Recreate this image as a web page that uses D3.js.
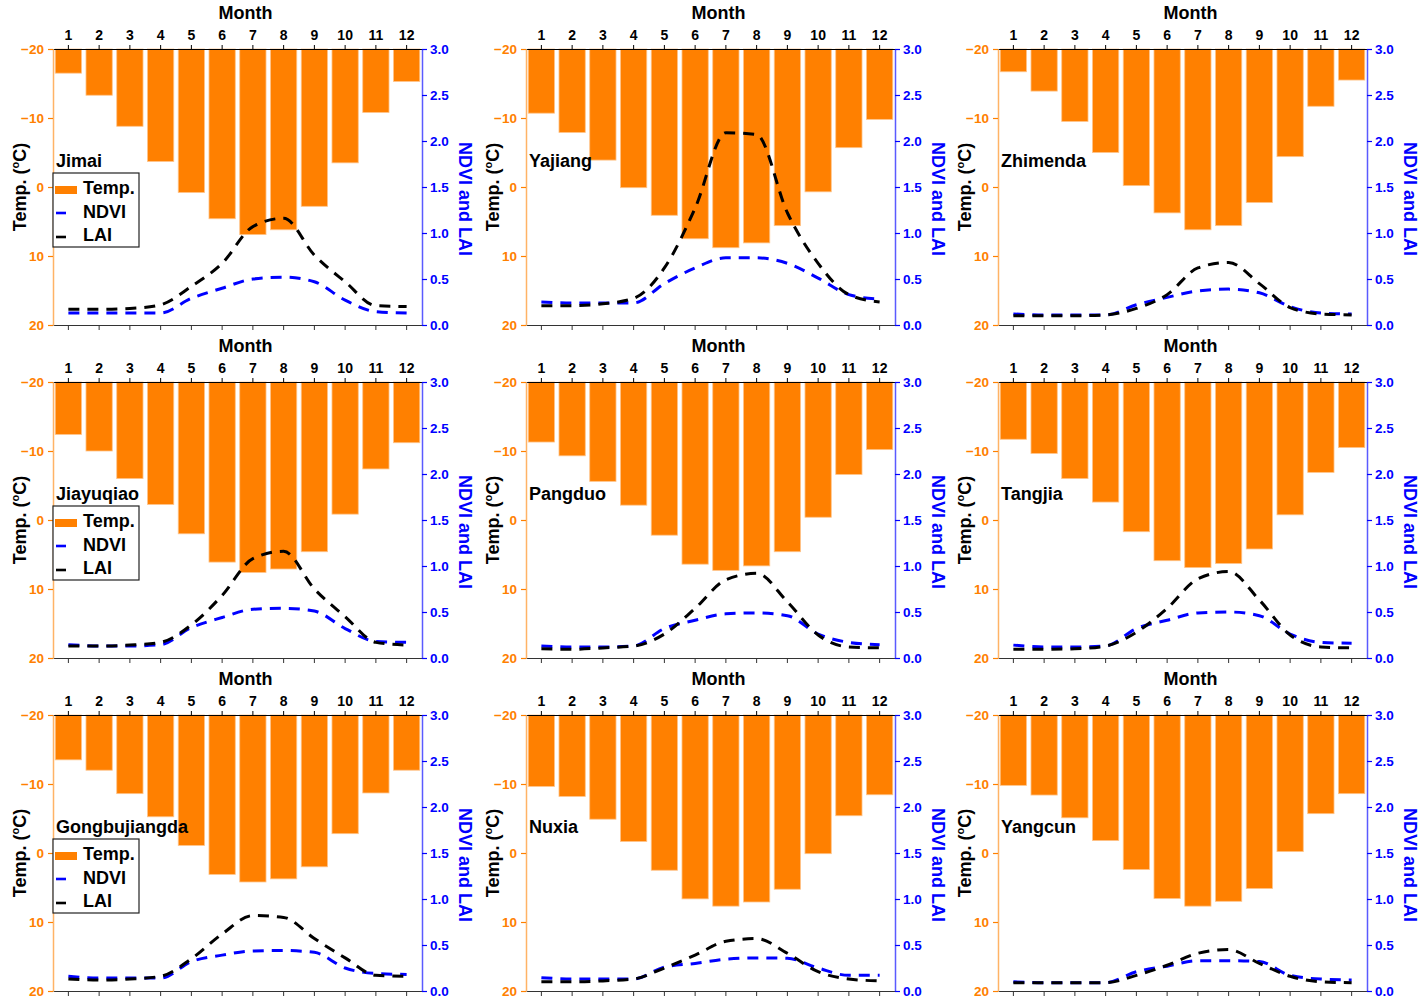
<!DOCTYPE html>
<html>
<head>
<meta charset="utf-8">
<script src="https://cdn.jsdelivr.net/npm/d3@7/dist/d3.min.js"></script>
<style>
  html, body { margin: 0; padding: 0; background: #fff; }
  svg { display: block; font-family: "Liberation Sans", Arial, sans-serif; }
</style>
</head>
<body>
<svg id="chart" width="1422" height="1000"></svg>
<script>
// ---------------- DATA ----------------
const months = [1, 2, 3, 4, 5, 6, 7, 8, 9, 10, 11, 12];
const stations = ["Jimai", "Yajiang", "Zhimenda", "Jiayuqiao", "Pangduo", "Tangjia", "Gongbujiangda", "Nuxia", "Yangcun"];
const tempTicks = [-20, -10, 0, 10, 20];
const vegTicks = [0, 0.5, 1.0, 1.5, 2.0, 2.5, 3.0];
const legendLabels = ["Temp.", "NDVI", "LAI"];

const jimaiTemp = [-16.5, -13.3, -8.8, -3.7, 0.8, 4.6, 6.9, 6.2, 2.8, -3.5, -10.8, -15.3];
const jimaiNDVI = [0.13, 0.13, 0.13, 0.13, 0.29, 0.40, 0.50, 0.52, 0.47, 0.27, 0.145, 0.13];
const jimaiLAI = [0.17, 0.17, 0.18, 0.22, 0.42, 0.67, 1.07, 1.16, 0.76, 0.47, 0.21, 0.20];

const yajiangTemp = [-10.7, -7.9, -3.9, 0.1, 4.1, 7.5, 8.8, 8.1, 5.6, 0.7, -5.7, -9.8];
const yajiangNDVI = [0.25, 0.24, 0.24, 0.24, 0.45, 0.62, 0.73, 0.73, 0.67, 0.51, 0.33, 0.28];
const yajiangLAI = [0.21, 0.21, 0.23, 0.29, 0.62, 1.27, 2.09, 2.07, 1.22, 0.67, 0.33, 0.25];

const zhimendaTemp = [-16.7, -13.9, -9.5, -5.0, -0.2, 3.75, 6.2, 5.6, 2.25, -4.4, -11.7, -15.5];
const zhimendaNDVI = [0.12, 0.11, 0.11, 0.11, 0.22, 0.30, 0.37, 0.39, 0.35, 0.20, 0.13, 0.12];
const zhimendaLAI = [0.10, 0.10, 0.10, 0.11, 0.18, 0.33, 0.62, 0.68, 0.45, 0.19, 0.12, 0.11];

const jiayuqiaoTemp = [-12.4, -10.0, -6.0, -2.25, 2.0, 6.1, 7.6, 7.1, 4.6, -0.85, -7.4, -11.2];
const jiayuqiaoNDVI = [0.145, 0.13, 0.13, 0.145, 0.33, 0.44, 0.53, 0.54, 0.51, 0.32, 0.18, 0.17];
const jiayuqiaoLAI = [0.13, 0.13, 0.14, 0.17, 0.36, 0.68, 1.08, 1.16, 0.75, 0.45, 0.17, 0.14];

const pangduoTemp = [-11.3, -9.3, -5.6, -2.15, 2.2, 6.4, 7.3, 6.65, 4.6, -0.4, -6.6, -10.2];
const pangduoNDVI = [0.13, 0.12, 0.12, 0.13, 0.32, 0.41, 0.48, 0.49, 0.46, 0.26, 0.17, 0.145];
const pangduoLAI = [0.10, 0.095, 0.11, 0.13, 0.26, 0.54, 0.85, 0.92, 0.61, 0.25, 0.12, 0.11];

const tangjiaTemp = [-11.7, -9.65, -6.0, -2.6, 1.7, 5.9, 6.9, 6.3, 4.2, -0.75, -6.9, -10.5];
const tangjiaNDVI = [0.14, 0.12, 0.12, 0.13, 0.32, 0.41, 0.49, 0.50, 0.46, 0.26, 0.17, 0.16];
const tangjiaLAI = [0.095, 0.095, 0.10, 0.13, 0.28, 0.54, 0.86, 0.94, 0.63, 0.25, 0.12, 0.11];

const gongbujiangdaTemp = [-13.5, -12.0, -8.6, -5.25, -1.1, 3.1, 4.2, 3.75, 2.0, -2.8, -8.7, -12.0];
const gongbujiangdaNDVI = [0.16, 0.14, 0.14, 0.14, 0.32, 0.39, 0.435, 0.44, 0.42, 0.25, 0.19, 0.18];
const gongbujiangdaLAI = [0.13, 0.12, 0.13, 0.16, 0.35, 0.62, 0.82, 0.80, 0.57, 0.36, 0.17, 0.16];

const nuxiaTemp = [-9.65, -8.2, -4.9, -1.67, 2.5, 6.65, 7.7, 7.1, 5.25, 0.1, -5.4, -8.44];
const nuxiaNDVI = [0.145, 0.13, 0.13, 0.13, 0.26, 0.30, 0.345, 0.36, 0.355, 0.25, 0.17, 0.17];
const nuxiaLAI = [0.10, 0.10, 0.11, 0.13, 0.25, 0.39, 0.54, 0.57, 0.41, 0.21, 0.13, 0.11];

const yangcunTemp = [-9.8, -8.4, -5.1, -1.8, 2.4, 6.6, 7.7, 7.0, 5.15, -0.2, -5.7, -8.6];
const yangcunNDVI = [0.10, 0.09, 0.09, 0.09, 0.21, 0.27, 0.33, 0.33, 0.32, 0.17, 0.13, 0.12];
const yangcunLAI = [0.09, 0.09, 0.09, 0.09, 0.17, 0.28, 0.41, 0.45, 0.30, 0.16, 0.10, 0.09];

const tempSeries = [jimaiTemp, yajiangTemp, zhimendaTemp, jiayuqiaoTemp, pangduoTemp, tangjiaTemp, gongbujiangdaTemp, nuxiaTemp, yangcunTemp];
const ndviSeries = [jimaiNDVI, yajiangNDVI, zhimendaNDVI, jiayuqiaoNDVI, pangduoNDVI, tangjiaNDVI, gongbujiangdaNDVI, nuxiaNDVI, yangcunNDVI];
const laiSeries = [jimaiLAI, yajiangLAI, zhimendaLAI, jiayuqiaoLAI, pangduoLAI, tangjiaLAI, gongbujiangdaLAI, nuxiaLAI, yangcunLAI];

// ---------------- LAYOUT / STYLE ----------------
const colLeft = [53, 526, 998];
const rowTop = [49, 382, 715];
const PW = 369, PH = 276;
const ORANGE = "#FF8000";
const BLUE = "#0000FF";
const FONT = "Liberation Sans, Arial, sans-serif";

const svg = d3.select("#chart");

stations.forEach((name, i) => {
  const L = colLeft[i % 3];
  const T = rowTop[Math.floor(i / 3)];
  const g = svg.append("g");

  const x = d3.scaleBand().domain(months).range([L, L + PW]).paddingInner(0.145).paddingOuter(0.0725);
  const yT = d3.scaleLinear().domain([-20, 20]).range([T, T + PH]);
  const yV = d3.scaleLinear().domain([0, 3]).range([T + PH, T]);
  const bw = x.bandwidth();

  // bars
  g.append("g").selectAll("rect")
    .data(months.map((m, k) => ({ m, v: tempSeries[i][k] })))
    .join("rect")
    .attr("x", d => x(d.m))
    .attr("y", yT(-20))
    .attr("width", bw)
    .attr("height", d => yT(d.v) - yT(-20))
    .attr("fill", ORANGE)
    .attr("stroke", "#FFC48A")
    .attr("stroke-width", 0.8);

  // lines
  const line = d3.line()
    .x(d => x(d.m) + bw / 2)
    .y(d => yV(d.v))
    .curve(d3.curveMonotoneX);
  const ndvi = months.map((m, k) => ({ m, v: ndviSeries[i][k] }));
  const lai = months.map((m, k) => ({ m, v: laiSeries[i][k] }));
  g.append("path").datum(ndvi).attr("d", line)
    .attr("fill", "none").attr("stroke", BLUE).attr("stroke-width", 3)
    .attr("stroke-dasharray", "11,8");
  g.append("path").datum(lai).attr("d", line)
    .attr("fill", "none").attr("stroke", "#000").attr("stroke-width", 3)
    .attr("stroke-dasharray", "11,8");

  // top axis (month labels)
  const top = g.append("g").attr("transform", `translate(0,${T})`)
    .call(d3.axisTop(x).tickSize(4).tickSizeOuter(0).tickPadding(5));
  top.attr("font-size", 14).attr("font-family", FONT).attr("font-weight", 700);
  top.select(".domain").attr("stroke", "#000").attr("stroke-width", 1.2);
  top.selectAll(".tick line").attr("stroke", "#000");
  top.selectAll("text").attr("fill", "#000");

  // bottom axis
  const bot = g.append("g").attr("transform", `translate(0,${T + PH})`)
    .call(d3.axisBottom(x).tickSize(5).tickSizeOuter(0).tickFormat(""));
  bot.select(".domain").attr("stroke", "#333").attr("stroke-width", 1.2);
  bot.selectAll(".tick line").attr("stroke", "#333");

  // left axis (temperature)
  const la = g.append("g").attr("transform", `translate(${L},0)`)
    .call(d3.axisLeft(yT).tickValues(tempTicks).tickSize(5).tickSizeOuter(0).tickPadding(4));
  la.attr("font-size", 13.5).attr("font-family", FONT).attr("font-weight", 700);
  la.select(".domain").attr("stroke", "#FFB366").attr("stroke-width", 1.5);
  la.selectAll(".tick line").attr("stroke", ORANGE).attr("stroke-width", 1.2);
  la.selectAll("text").attr("fill", ORANGE);

  // right axis (NDVI / LAI)
  const ra = g.append("g").attr("transform", `translate(${L + PW},0)`)
    .call(d3.axisRight(yV).tickValues(vegTicks).tickFormat(d3.format(".1f")).tickSize(5).tickSizeOuter(0).tickPadding(3));
  ra.attr("font-size", 13.5).attr("font-family", FONT).attr("font-weight", 700);
  ra.select(".domain").attr("stroke", "#5A5AFF").attr("stroke-width", 1.5);
  ra.selectAll(".tick line").attr("stroke", BLUE).attr("stroke-width", 1.2);
  ra.selectAll("text").attr("fill", BLUE);

  // titles
  g.append("text").attr("x", L + PW / 2 + 8).attr("y", T - 30)
    .attr("text-anchor", "middle").attr("font-size", 18).attr("font-weight", 700)
    .text("Month");

  const tl = g.append("text")
    .attr("transform", `translate(${L - 27},${T + PH / 2}) rotate(-90)`)
    .attr("text-anchor", "middle").attr("font-size", 18).attr("font-weight", 700);
  tl.append("tspan").text("Temp. (");
  tl.append("tspan").attr("font-size", 11).attr("dy", -7).text("o");
  tl.append("tspan").attr("dy", 7).text("C)");

  g.append("text")
    .attr("transform", `translate(${L + PW + 37},${T + 150}) rotate(90)`)
    .attr("text-anchor", "middle").attr("font-size", 18).attr("font-weight", 700)
    .attr("fill", BLUE).text("NDVI and LAI");

  // station name
  g.append("text").attr("x", L + 3).attr("y", T + 118)
    .attr("font-size", 18).attr("font-weight", 700).text(name);

  // legend in first column
  if (i % 3 === 0) {
    const lg = g.append("g").attr("transform", `translate(${L},${T + 124})`);
    lg.append("rect").attr("x", 0).attr("y", 0).attr("width", 86).attr("height", 74)
      .attr("fill", "#fff").attr("stroke", "#222").attr("stroke-width", 1.2);
    lg.append("rect").attr("x", 2).attr("y", 13).attr("width", 22).attr("height", 8).attr("fill", ORANGE);
    lg.append("line").attr("x1", 3).attr("x2", 13).attr("y1", 40).attr("y2", 40)
      .attr("stroke", BLUE).attr("stroke-width", 2.6);
    lg.append("line").attr("x1", 3).attr("x2", 13).attr("y1", 64).attr("y2", 64)
      .attr("stroke", "#000").attr("stroke-width", 2.6);
    legendLabels.forEach((lab, k) => {
      lg.append("text").attr("x", 30).attr("y", 21 + k * 23.5)
        .attr("font-size", 18).attr("font-weight", 700).text(lab);
    });
  }
});
</script>
</body>
</html>
